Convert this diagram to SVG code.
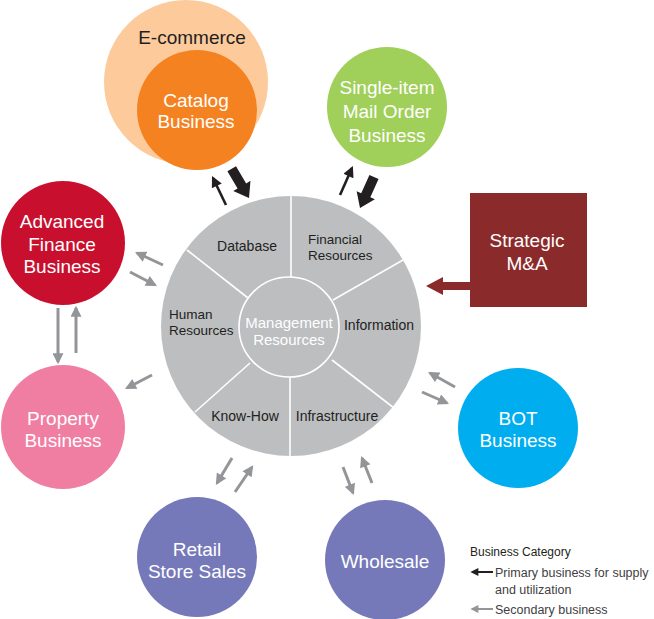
<svg xmlns="http://www.w3.org/2000/svg" width="654" height="619" viewBox="0 0 654 619">
  <style>
    .lbl { font-family: "Liberation Sans", Arial, sans-serif; text-anchor: middle; }
    .big { font-size: 19px; fill: #ffffff; }
    .dark { fill: #231f20; }
    .seg { font-family: "Liberation Sans", Arial, sans-serif; font-size: 14px; fill: #231f20; }
    .seg2 { font-family: "Liberation Sans", Arial, sans-serif; font-size: 13.5px; fill: #231f20; }
    .spoke { stroke: #ffffff; stroke-width: 1.6; fill: none; }
    .gray { stroke: #939598; stroke-width: 3; fill: none; marker-end: url(#headGray); }
    .blk { stroke: #231f20; stroke-width: 2.6; fill: none; marker-end: url(#headBlack); }
    .leg { font-family: "Liberation Sans", Arial, sans-serif; font-size: 12.5px; fill: #414042; }
  </style>
  <defs>
    <marker id="headGray" viewBox="0 0 10 10" refX="8" refY="5" markerWidth="12" markerHeight="11" markerUnits="userSpaceOnUse" orient="auto">
      <path d="M0,0 L10,5 L0,10 Z" fill="#939598"/>
    </marker>
    <marker id="headBlack" viewBox="0 0 10 10" refX="8" refY="5" markerWidth="12" markerHeight="11" markerUnits="userSpaceOnUse" orient="auto">
      <path d="M0,0 L10,5 L0,10 Z" fill="#231f20"/>
    </marker>
    <marker id="headGraySm" viewBox="0 0 10 10" refX="8" refY="5" markerWidth="9" markerHeight="8" markerUnits="userSpaceOnUse" orient="auto">
      <path d="M0,0 L10,5 L0,10 Z" fill="#939598"/>
    </marker>
    <marker id="headBlackSm" viewBox="0 0 10 10" refX="8" refY="5" markerWidth="9" markerHeight="8" markerUnits="userSpaceOnUse" orient="auto">
      <path d="M0,0 L10,5 L0,10 Z" fill="#231f20"/>
    </marker>
    <!-- thick primary arrow, pointing along +x with its tip at the origin -->
    <polygon id="fatArrow" points="0,0 -14,-10 -14,-5 -34,-5 -34,5 -14,5 -14,10"/>
  </defs>

  <rect width="654" height="619" fill="#ffffff"/>

  <!-- central management resources wheel -->
  <g id="management-resources">
    <circle cx="291" cy="326" r="130" fill="#bcbec0"/>
    <line class="spoke" x1="291" y1="196" x2="291" y2="277"/>
    <line class="spoke" x1="290" y1="376" x2="290" y2="456"/>
    <line class="spoke" x1="187" y1="250" x2="248" y2="298"/>
    <line class="spoke" x1="403" y1="260" x2="333" y2="300"/>
    <line class="spoke" x1="332" y1="360" x2="394" y2="408"/>
    <line class="spoke" x1="250" y1="363" x2="195" y2="412"/>
    <circle cx="289" cy="327" r="50" fill="#bcbec0" stroke="#ffffff" stroke-width="1.6"/>
    <text class="lbl" x="289" y="328" font-size="15" fill="#ffffff">Management</text>
    <text class="lbl" x="289" y="345" font-size="15" fill="#ffffff">Resources</text>
    <text class="lbl seg" x="247" y="251">Database</text>
    <text class="seg2" x="308" y="244">Financial</text>
    <text class="seg2" x="308" y="260">Resources</text>
    <text class="seg2" x="169" y="319">Human</text>
    <text class="seg2" x="169" y="335">Resources</text>
    <text class="lbl seg" x="379" y="330">Information</text>
    <text class="lbl seg" x="245" y="421">Know-How</text>
    <text class="lbl seg" x="337" y="421">Infrastructure</text>
  </g>

  <g id="e-commerce">
    <circle cx="186" cy="82" r="82" fill="#fdca9c"/>
    <text class="lbl dark" x="192" y="44" font-size="19">E-commerce</text>
  </g>

  <g id="catalog-business">
    <circle cx="197" cy="110" r="60" fill="#f58220"/>
    <text class="lbl big" x="196" y="107">Catalog</text>
    <text class="lbl big" x="196" y="128">Business</text>
  </g>

  <g id="single-item-mail-order">
    <circle cx="387" cy="107" r="60" fill="#a0cf5a"/>
    <text class="lbl big" x="387" y="94">Single-item</text>
    <text class="lbl big" x="387" y="118">Mail Order</text>
    <text class="lbl big" x="387" y="142">Business</text>
  </g>

  <g id="advanced-finance">
    <circle cx="63" cy="243" r="62" fill="#c8102e"/>
    <text class="lbl big" x="62" y="228">Advanced</text>
    <text class="lbl big" x="62" y="251">Finance</text>
    <text class="lbl big" x="62" y="273">Business</text>
  </g>

  <g id="property-business">
    <circle cx="63" cy="427" r="62" fill="#f07ea3"/>
    <text class="lbl big" x="63" y="425">Property</text>
    <text class="lbl big" x="63" y="447">Business</text>
  </g>

  <g id="retail-store-sales">
    <circle cx="197" cy="557" r="60" fill="#7679b9"/>
    <text class="lbl big" x="197" y="556">Retail</text>
    <text class="lbl big" x="197" y="578">Store Sales</text>
  </g>

  <g id="wholesale">
    <circle cx="385" cy="560" r="60" fill="#7679b9"/>
    <text class="lbl big" x="385" y="568">Wholesale</text>
  </g>

  <g id="bot-business">
    <circle cx="518" cy="428" r="60" fill="#00aeef"/>
    <text class="lbl big" x="518" y="425">BOT</text>
    <text class="lbl big" x="518" y="447">Business</text>
  </g>

  <g id="strategic-ma">
    <rect x="470" y="193" width="117" height="114" fill="#8b2a2a"/>
    <text class="lbl big" x="527" y="247">Strategic</text>
    <text class="lbl big" x="527" y="270">M&amp;A</text>
  </g>

  <!-- connectors -->
  <g id="connectors">
    <!-- primary business flows -->
    <line class="blk" x1="226" y1="205" x2="213" y2="178"/>
    <use href="#fatArrow" fill="#231f20" transform="translate(249,198) rotate(59.4)"/>
    <line class="blk" x1="340" y1="195" x2="352" y2="168"/>
    <use href="#fatArrow" fill="#231f20" transform="translate(360,208) rotate(114.3)"/>

    <!-- secondary business flows -->
    <line class="gray" x1="163" y1="265" x2="137" y2="253"/>
    <line class="gray" x1="130" y1="272" x2="155" y2="285"/>
    <line class="gray" x1="58" y1="308" x2="58" y2="362"/>
    <line class="gray" x1="76" y1="353" x2="76" y2="308"/>
    <line class="gray" x1="152" y1="375" x2="127" y2="388"/>
    <line class="gray" x1="232" y1="458" x2="217" y2="483"/>
    <line class="gray" x1="235" y1="492" x2="252" y2="467"/>
    <line class="gray" x1="343" y1="467" x2="353" y2="493"/>
    <line class="gray" x1="372" y1="483" x2="362" y2="458"/>
    <line class="gray" x1="455" y1="387" x2="430" y2="373"/>
    <line class="gray" x1="422" y1="392" x2="447" y2="403"/>

    <!-- strategic M&A feed into the wheel -->
    <polygon points="426,286 443,277 443,282 470,282 470,290 443,290 443,295" fill="#8b2a2a"/>
  </g>

  <!-- legend -->
  <g id="legend">
    <text x="470" y="556" font-family="Liberation Sans, Arial, sans-serif" font-size="12" fill="#231f20">Business Category</text>
    <line x1="493" y1="572" x2="472" y2="572" stroke="#231f20" stroke-width="2" marker-end="url(#headBlackSm)"/>
    <text class="leg" x="495" y="577">Primary business for supply</text>
    <text class="leg" x="495" y="594">and utilization</text>
    <line x1="493" y1="609" x2="472" y2="609" stroke="#939598" stroke-width="2" marker-end="url(#headGraySm)"/>
    <text class="leg" x="495" y="614">Secondary business</text>
  </g>
</svg>
